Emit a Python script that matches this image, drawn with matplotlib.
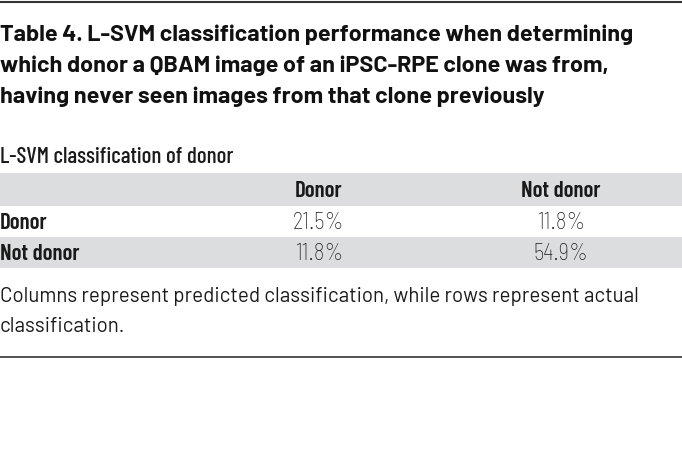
import matplotlib.pyplot as plt
from matplotlib.patches import Rectangle

# Table content
title_lines = [
    'Table 4. L-SVM classification performance when determining',
    'which donor a QBAM image of an iPSC-RPE clone was from,',
    'having never seen images from that clone previously',
]
subtitle = 'L-SVM classification of donor'
col_labels = ['Donor', 'Not donor']
row_labels = ['Donor', 'Not donor']
cell_values = [['21.5%', '11.8%'],
               ['11.8%', '54.9%']]
caption_lines = [
    'Columns represent predicted classification, while rows represent actual',
    'classification.',
]

wide = ['Barlow', 'DejaVu Sans']
semi = ['Barlow Semi Condensed', 'DejaVu Sans']
cond = ['Barlow Condensed', 'DejaVu Sans']
plt.rcParams['font.family'] = semi

W, H = 682, 466
fig = plt.figure(figsize=(W / 100, H / 100), dpi=100)
ax = fig.add_axes([0, 0, 1, 1])
ax.set_xlim(0, W)
ax.set_ylim(H, 0)
ax.axis('off')

band = '#dcdddf'
txt = '#1a1a1a'

# top and bottom rules
ax.plot([0, W], [1.5, 1.5], color='#333333', lw=1.5)
ax.plot([0, W], [356.5, 356.5], color='#333333', lw=1.2)

for i, line in enumerate(title_lines):
    ax.text(0, 35 + i * 31, line, fontsize=16.8, fontweight='bold', family=wide,
            color='#111111', va='center', ha='left')

ax.text(0, 157, subtitle, fontsize=16.5, fontweight='medium', family=cond,
        color=txt, va='center', ha='left')

# header band and alternating row bands
ax.add_patch(Rectangle((0, 173), W, 33, color=band, lw=0))
ax.add_patch(Rectangle((0, 237), W, 31, color=band, lw=0))

col_x = [319, 561]
for x, lab in zip(col_x, col_labels):
    ax.text(x, 191, lab, fontsize=16.5, fontweight='semibold', family=cond,
            color=txt, ha='center', va='center')

row_y = [223, 254]
for y, lab, vals in zip(row_y, row_labels, cell_values):
    ax.text(0, y, lab, fontsize=16.5, fontweight='semibold', family=cond,
            color=txt, ha='left', va='center')
    for x, v in zip(col_x, vals):
        ax.text(x, y, v, fontsize=16.5, fontweight='light', family=semi,
                color='#1a1a1a', ha='center', va='center')

for i, line in enumerate(caption_lines):
    ax.text(0, 297 + i * 29, line, fontsize=14.8, fontweight='normal', family=wide,
            color=txt, va='center', ha='left')

fig.savefig('out.png', dpi=100, facecolor='white')
